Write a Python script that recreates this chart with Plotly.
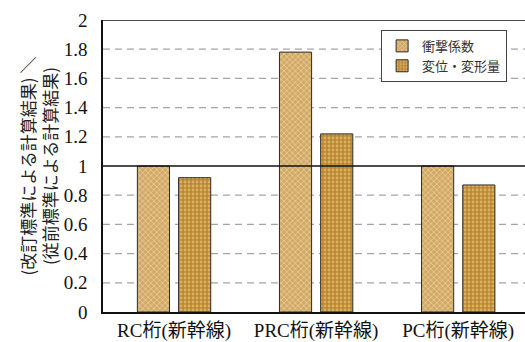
import plotly.graph_objects as go

# Ratio of results: revised standard / previous standard
categories = ["RC桁(新幹線)", "PRC桁(新幹線)", "PC桁(新幹線)"]
impact_coef = [1.00, 1.78, 1.00]      # 衝撃係数
displacement = [0.92, 1.22, 0.87]     # 変位・変形量
y_ticks = [0, 0.2, 0.4, 0.6, 0.8, 1, 1.2, 1.4, 1.6, 1.8, 2]
y_tick_text = ["0", "0.2", "0.4", "0.6", "0.8", "1", "1.2", "1.4", "1.6", "1.8", "2"]

serif = "Liberation Serif, Times New Roman, Noto Sans CJK JP, serif"
cjk = "Noto Sans CJK JP, sans-serif"

fig = go.Figure()
fig.add_trace(go.Bar(
    name="衝撃係数", x=categories, y=impact_coef,
    marker=dict(
        color="#d9b577",
        line=dict(color="#2b2b2b", width=1),
        pattern=dict(shape="x", size=4, solidity=0.4,
                     fgcolor="#f6ead0", bgcolor="#d3a963", fillmode="overlay"),
    ),
))
fig.add_trace(go.Bar(
    name="変位・変形量", x=categories, y=displacement,
    marker=dict(
        color="#c48f36",
        line=dict(color="#2b2b2b", width=1),
        pattern=dict(shape=".", size=4, solidity=0.4,
                     fgcolor="#f3dca2", bgcolor="#bd872d", fillmode="overlay"),
    ),
))

# dashed grid between ticks, solid lines at 1 and at the top of the frame
for yv in y_ticks:
    if yv == 0:
        continue
    if yv in (1, 2):
        line = dict(color="#111111", width=1.5)
        layer = "above"
    else:
        line = dict(color="#aaa2a2", width=1.2, dash="7px,5px")
        layer = "below"
    fig.add_shape(type="line", xref="paper", yref="y", x0=0, x1=1, y0=yv, y1=yv,
                  line=line, layer=layer)

fig.update_layout(
    width=525, height=342,
    margin=dict(l=103, r=0, t=20, b=30),
    paper_bgcolor="white", plot_bgcolor="white",
    barmode="group", bargap=0.42, bargroupgap=0.22,
    showlegend=True,
    legend=dict(
        x=0.659, y=0.966, xanchor="left", yanchor="top",
        bgcolor="white", bordercolor="#444444", borderwidth=1,
        font=dict(family=cjk, size=13, color="#333333"),
        itemwidth=30, tracegroupgap=2,
    ),
    xaxis=dict(
        type="category", range=[-0.5, 2.47],
        showline=True, linecolor="#111111", linewidth=1.5,
        ticks="", showgrid=False,
        tickfont=dict(family=serif, size=19, color="#111111"),
    ),
    yaxis=dict(
        range=[0, 2], tickvals=y_ticks, ticktext=y_tick_text,
        showline=True, linecolor="#111111", linewidth=1.5,
        ticks="", ticklabelstandoff=10,
        showgrid=False, zeroline=False,
        tickfont=dict(family=serif, size=19, color="#111111"),
        title=dict(
            text="(改訂標準による計算結果) ＼<br>(従前標準による計算結果)",
            font=dict(family=cjk, size=17, color="#222222"),
            standoff=2,
        ),
    ),
)

fig.write_html("out.html")
